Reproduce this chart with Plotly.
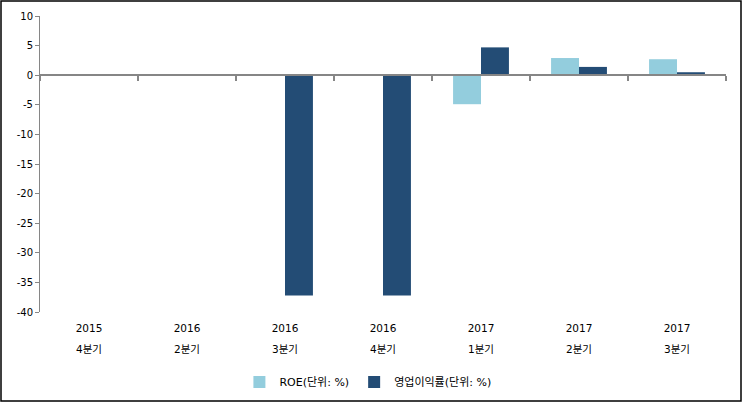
import plotly.graph_objects as go

years = ["2015", "2016", "2016", "2016", "2017", "2017", "2017"]
quarters = ["4분기", "2분기", "3분기", "4분기", "1분기", "2분기", "3분기"]
roe = [0, 0, 0, 0, -4.9, 2.9, 2.7]
op_margin = [0, 0, -37.2, -37.2, 4.7, 1.4, 0.5]
series_names = ["ROE(단위: %)", "영업이익률(단위: %)"]
y_ticks = list(range(-40, 11, 5))

W, H = 743, 403
ml, mr, mt, mb = 40, 17, 16, 91
pw, ph = W - ml - mr, H - mt - mb

fam = "DejaVu Sans, Noto Sans CJK KR"
font = dict(family=fam, size=10, color="#000000")

n = len(years)
xs = list(range(n))
ymin, ymax = -40, 10
zero_pos = (0 - ymin) / (ymax - ymin)

fig = go.Figure()
fig.add_trace(go.Bar(x=xs, y=roe, name=series_names[0],
                     marker=dict(color="#93CDDD", line=dict(width=0))))
fig.add_trace(go.Bar(x=xs, y=op_margin, name=series_names[1],
                     marker=dict(color="#234C75", line=dict(width=0))))
# empty traces so the overlay axes are drawn
fig.add_trace(go.Scatter(x=[None], y=[None], xaxis="x2", showlegend=False, hoverinfo="skip"))
fig.add_trace(go.Scatter(x=[None], y=[None], xaxis="x3", showlegend=False, hoverinfo="skip"))

fig.update_layout(
    width=W, height=H,
    margin=dict(l=ml, r=mr, t=mt, b=mb, autoexpand=False),
    paper_bgcolor="white", plot_bgcolor="white",
    barmode="group", bargap=0.43, bargroupgap=0,
    font=font,
    showlegend=True,
    legend=dict(orientation="h", x=0.478, xanchor="center", xref="paper",
                y=21 / H, yanchor="middle", yref="container",
                font=dict(family=fam, size=11), itemwidth=30, traceorder="normal",
                bgcolor="rgba(0,0,0,0)"),
    xaxis=dict(range=[-0.5, n - 0.5], tickvals=xs, ticktext=years,
               showline=False, ticks="", showgrid=False, zeroline=False,
               tickfont=dict(family=fam, size=10.5), ticklabelstandoff=8),
    xaxis3=dict(overlaying="x", range=[-0.5, n - 0.5], anchor="y", side="bottom",
                tickvals=xs, ticktext=quarters,
                showline=False, ticks="", showgrid=False, zeroline=False,
                tickfont=dict(family=fam, size=10.5), ticklabelstandoff=29),
    xaxis2=dict(overlaying="x", range=[-0.5, n - 0.5], anchor="free", position=zero_pos,
                tickvals=[i - 0.5 for i in range(n + 1)], showticklabels=False,
                ticks="outside", ticklen=5, tickcolor="#868686", tickwidth=1.5,
                showline=True, linecolor="#868686", linewidth=1.5, showgrid=False,
                zeroline=False, side="bottom"),
    yaxis=dict(range=[ymin, ymax], tickvals=y_ticks, ticktext=[str(v) for v in y_ticks],
               showgrid=False, zeroline=False,
               showline=True, linecolor="#868686", linewidth=1,
               ticks="outside", ticklen=4, tickcolor="#868686",
               tickfont=dict(family=fam, size=10)),
)

fig.add_shape(type="rect", xref="paper", yref="paper",
              x0=-(ml - 1) / pw, x1=1 + (mr - 2) / pw,
              y0=-(mb - 2) / ph, y1=1 + (mt - 1) / ph,
              line=dict(color="#000000", width=1.5), layer="above")

fig.write_html("out.html", config={"displayModeBar": False},
               post_script="document.body.style.margin='0';document.body.style.overflow='hidden';")
